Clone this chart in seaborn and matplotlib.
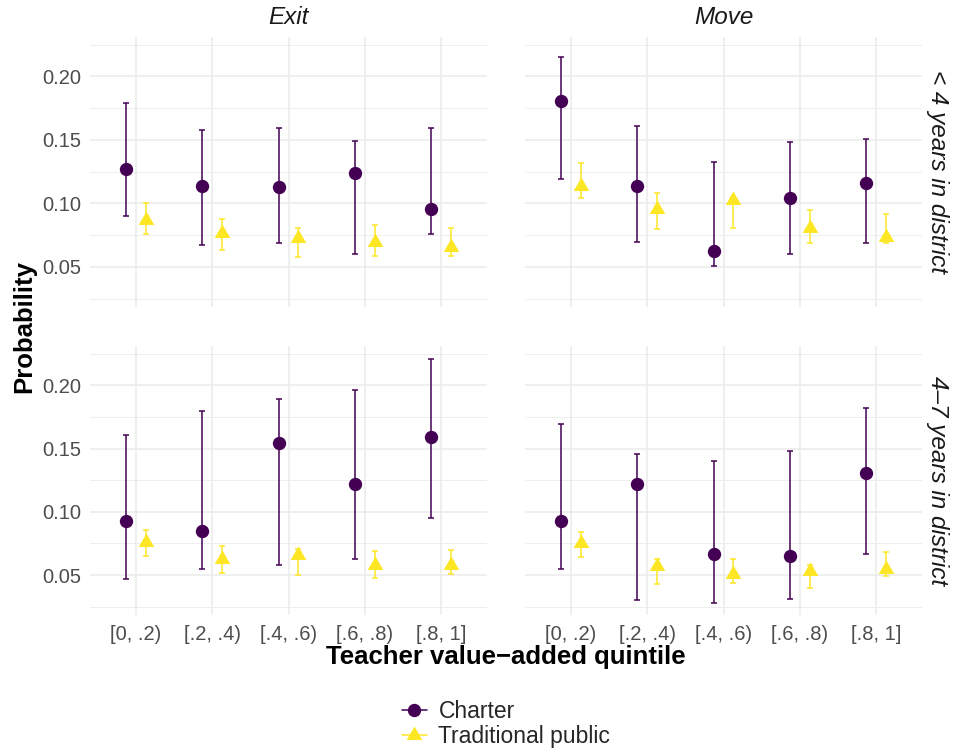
import numpy as np
import pandas as pd
import matplotlib
matplotlib.use("Agg")
import matplotlib.pyplot as plt
from matplotlib.lines import Line2D
from matplotlib.ticker import MultipleLocator
import seaborn as sns

# Value-added quintile categories
quintiles = ["[0, .2)", "[.2, .4)", "[.4, .6)", "[.6, .8)", "[.8, 1]"]
outcomes = ["Exit", "Move"]
tenures = ["< 4 years in district", "4\u20137 years in district"]
sectors = ["Charter", "Traditional public"]

# Exit, < 4 years
exit_lt4_charter = [0.127, 0.114, 0.113, 0.124, 0.096]
exit_lt4_charter_lo = [0.090, 0.067, 0.069, 0.060, 0.076]
exit_lt4_charter_hi = [0.179, 0.158, 0.159, 0.149, 0.159]
exit_lt4_trad = [0.087, 0.077, 0.073, 0.070, 0.066]
exit_lt4_trad_lo = [0.076, 0.063, 0.058, 0.059, 0.059]
exit_lt4_trad_hi = [0.100, 0.088, 0.081, 0.083, 0.081]

# Move, < 4 years
move_lt4_charter = [0.181, 0.114, 0.0625, 0.104, 0.116]
move_lt4_charter_lo = [0.119, 0.070, 0.051, 0.060, 0.069]
move_lt4_charter_hi = [0.215, 0.161, 0.133, 0.148, 0.151]
move_lt4_trad = [0.114, 0.096, 0.103, 0.081, 0.0735]
move_lt4_trad_lo = [0.104, 0.080, 0.081, 0.069, 0.069]
move_lt4_trad_hi = [0.132, 0.108, 0.105, 0.095, 0.092]

# Exit, 4-7 years
exit_4to7_charter = [0.093, 0.085, 0.154, 0.122, 0.159]
exit_4to7_charter_lo = [0.047, 0.055, 0.058, 0.063, 0.095]
exit_4to7_charter_hi = [0.161, 0.180, 0.189, 0.196, 0.221]
exit_4to7_trad = [0.076, 0.063, 0.066, 0.058, 0.058]
exit_4to7_trad_lo = [0.065, 0.052, 0.050, 0.048, 0.051]
exit_4to7_trad_hi = [0.086, 0.073, 0.071, 0.069, 0.070]

# Move, 4-7 years
move_4to7_charter = [0.093, 0.122, 0.067, 0.0655, 0.131]
move_4to7_charter_lo = [0.055, 0.030, 0.028, 0.031, 0.067]
move_4to7_charter_hi = [0.169, 0.146, 0.140, 0.148, 0.182]
move_4to7_trad = [0.075, 0.057, 0.051, 0.053, 0.0545]
move_4to7_trad_lo = [0.064, 0.043, 0.044, 0.040, 0.0495]
move_4to7_trad_hi = [0.084, 0.063, 0.063, 0.058, 0.068]

panels = {
    (tenures[0], "Exit"): (exit_lt4_charter, exit_lt4_charter_lo, exit_lt4_charter_hi,
                           exit_lt4_trad, exit_lt4_trad_lo, exit_lt4_trad_hi),
    (tenures[0], "Move"): (move_lt4_charter, move_lt4_charter_lo, move_lt4_charter_hi,
                           move_lt4_trad, move_lt4_trad_lo, move_lt4_trad_hi),
    (tenures[1], "Exit"): (exit_4to7_charter, exit_4to7_charter_lo, exit_4to7_charter_hi,
                           exit_4to7_trad, exit_4to7_trad_lo, exit_4to7_trad_hi),
    (tenures[1], "Move"): (move_4to7_charter, move_4to7_charter_lo, move_4to7_charter_hi,
                           move_4to7_trad, move_4to7_trad_lo, move_4to7_trad_hi),
}

rows = []
for (tenure, outcome), (c, clo, chi, t, tlo, thi) in panels.items():
    for i, q in enumerate(quintiles):
        rows.append(dict(tenure=tenure, outcome=outcome, quintile=q, qi=i,
                         sector=sectors[0], est=c[i], lo=clo[i], hi=chi[i]))
        rows.append(dict(tenure=tenure, outcome=outcome, quintile=q, qi=i,
                         sector=sectors[1], est=t[i], lo=tlo[i], hi=thi[i]))
df = pd.DataFrame(rows)
dodge = {sectors[0]: -0.13, sectors[1]: 0.13}
df["xpos"] = df["qi"] + df["sector"].map(dodge)

sns.set_theme(style="white")
plt.rcParams["font.family"] = ["Liberation Sans", "DejaVu Sans"]

palette = {sectors[0]: "#440154", sectors[1]: "#FDE725"}
# triangle with its centroid at the data point
tri = [(0.0, 1.0), (-0.866, -0.5), (0.866, -0.5), (0.0, 1.0)]
markers = {sectors[0]: "o", sectors[1]: tri}
msize = {sectors[0]: 9.6, sectors[1]: 13.0}

W, H = 955, 752
fig = plt.figure(figsize=(W / 100, H / 100), dpi=100)

col_px = [(90, 487), (525, 922)]
row_px = [(37, 307), (346, 615)]
grid_col = "#EBEBEB"
tick_col = "#4D4D4D"
ylim = (0.0185, 0.231)

for r, tenure in enumerate(tenures):
    for c, outcome in enumerate(outcomes):
        x0, x1 = col_px[c]
        y0, y1 = row_px[r]
        ax = fig.add_axes([x0 / W, 1 - y1 / H, (x1 - x0) / W, (y1 - y0) / H])
        sub = df[(df.tenure == tenure) & (df.outcome == outcome)]
        for s in sectors:
            d = sub[sub.sector == s]
            ax.errorbar(d["xpos"], d["est"],
                        yerr=[d["est"] - d["lo"], d["hi"] - d["est"]],
                        fmt="none", ecolor=palette[s], elinewidth=1.1,
                        capsize=2.3, capthick=1.1, zorder=2)
        for s in sectors:
            d = sub[sub.sector == s]
            sns.scatterplot(data=d, x="xpos", y="est", ax=ax, color=palette[s],
                            marker=markers[s], s=msize[s] ** 2, linewidth=0,
                            legend=False, zorder=3)
        ax.set_xlim(-0.6, 4.6)
        ax.set_ylim(*ylim)
        ax.set_xticks(range(len(quintiles)))
        ax.set_xticklabels(quintiles if r == 1 else [])
        ax.yaxis.set_major_locator(MultipleLocator(0.05))
        ax.yaxis.set_minor_locator(MultipleLocator(0.025))
        ax.yaxis.set_major_formatter(matplotlib.ticker.FormatStrFormatter("%.2f"))
        if c == 1:
            ax.set_yticklabels([])
        ax.grid(True, which="major", color=grid_col, linewidth=1.1)
        ax.grid(True, which="minor", axis="y", color=grid_col, linewidth=0.6)
        ax.set_axisbelow(True)
        ax.tick_params(axis="both", which="both", length=0, labelsize=14.5,
                       labelcolor=tick_col)
        ax.tick_params(axis="y", pad=6)
        ax.tick_params(axis="x", pad=7)
        ax.set_xlabel("")
        ax.set_ylabel("")
        for sp in ax.spines.values():
            sp.set_visible(False)
        if r == 0:
            ax.set_title(outcome, fontsize=17.5, style="italic", color="#1A1A1A", pad=9)
        if c == 1:
            ax.text(1.038, 0.5, tenure, transform=ax.transAxes, rotation=-90,
                    ha="center", va="center", fontsize=17.5, style="italic",
                    color="#1A1A1A")

fig.text(506 / W, 1 - 657 / H, "Teacher value\u2212added quintile", ha="center",
         va="center", fontsize=18.5, fontweight="bold", color="black")
fig.text(24 / W, 1 - 326 / H, "Probability", ha="center", va="center",
         rotation=90, fontsize=18.5, fontweight="bold", color="black")

handles = [
    Line2D([0], [0], color=palette[sectors[0]], marker="o", markersize=msize[sectors[0]],
           markeredgewidth=0, linewidth=1.1),
    Line2D([0], [0], color=palette[sectors[1]], marker=tri, markersize=msize[sectors[1]],
           markeredgewidth=0, linewidth=1.1),
]
fig.legend(handles, sectors, loc="center", bbox_to_anchor=(506 / W, 1 - 724 / H),
           frameon=False, fontsize=16.5, handlelength=1.1, handletextpad=0.5,
           labelspacing=0.05, borderpad=0)

fig.savefig("out.png", dpi=100)
